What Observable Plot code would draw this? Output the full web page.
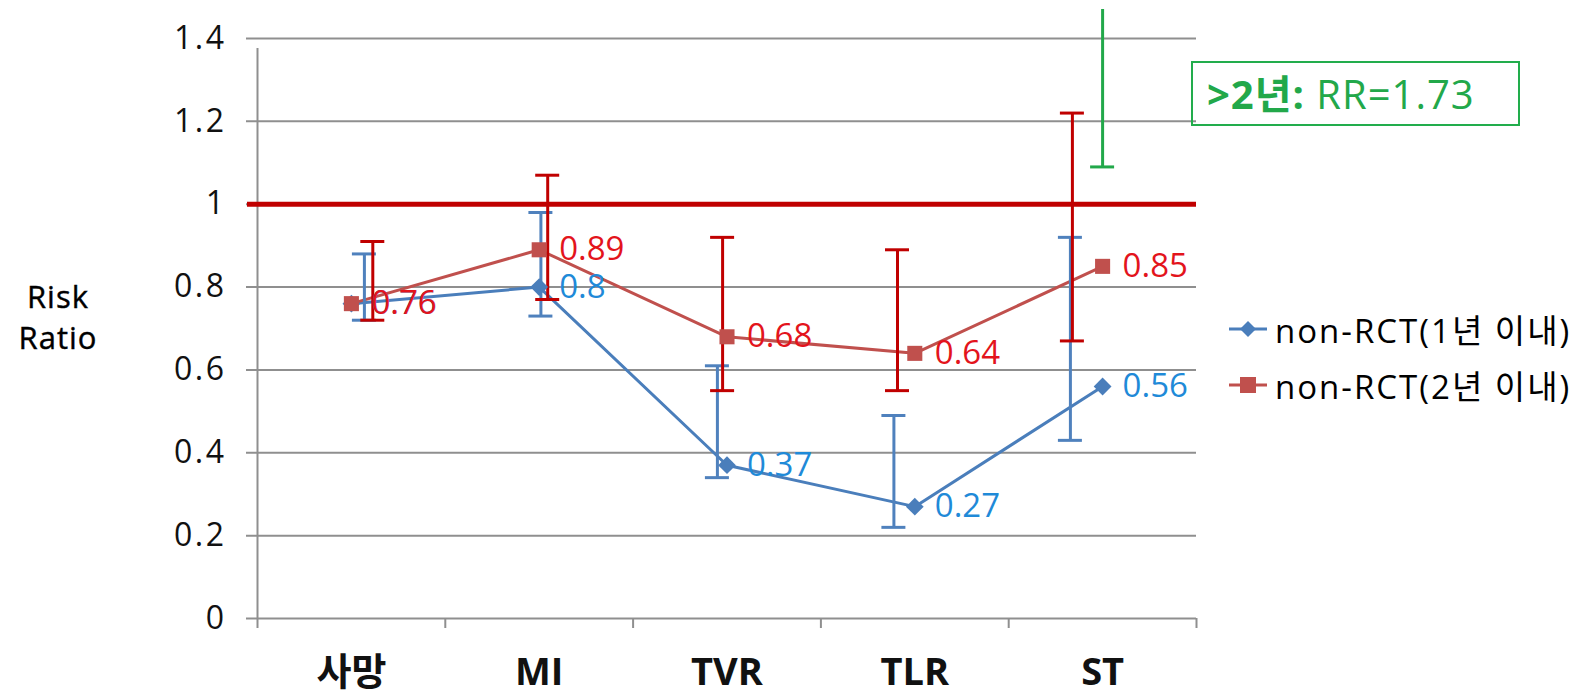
<!DOCTYPE html>
<html>
<head>
<meta charset="utf-8">
<script src="https://cdn.jsdelivr.net/npm/d3@7"></script>
<script src="https://cdn.jsdelivr.net/npm/@observablehq/plot@0.6"></script>
<style>
  html, body { margin: 0; padding: 0; background: #fff; }
  #wrap { position: relative; width: 1583px; height: 696px; font-family: "Open Sans", "Noto Sans CJK KR", sans-serif; }
  #wrap > svg { position: absolute; left: 0; top: 0; }
  #wrap g[aria-label="y-axis tick label"] text { letter-spacing: 2.5px; }
  .ylab { position: absolute; left: 0; width: 116px; text-align: center; font-size: 31px; line-height: 31px; color: #000; letter-spacing: 1px; -webkit-text-stroke: 0.4px #000; }
  .legend { position: absolute; left: 1229px; top: 301px; font-size: 33px; color: #000; }
  .legend .row { display: flex; align-items: center; height: 56px; letter-spacing: 2px; }
  .legend svg { margin-right: 8px; }
  .note { position: absolute; left: 1191px; top: 61px; width: 325px; height: 61px; border: 2px solid #22ad4c; color: #22a84a; font-size: 40px; line-height: 61px; box-sizing: content-box; white-space: nowrap; }
  .note span { margin-left: 14px; letter-spacing: 1px; }
</style>
</head>
<body>
<div id="wrap"></div>
<script>
// ---- data ----
const categories = ["사망", "MI", "TVR", "TLR", "ST"];
const seriesNames = ["non-RCT(1년 이내)", "non-RCT(2년 이내)"];
const rr1 = [0.76, 0.8, 0.37, 0.27, 0.56];
const lo1 = [0.72, 0.73, 0.34, 0.22, 0.43];
const hi1 = [0.88, 0.98, 0.61, 0.49, 0.92];
const rr2 = [0.76, 0.89, 0.68, 0.64, 0.85];
const lo2 = [0.72, 0.77, 0.55, 0.55, 0.67];
const hi2 = [0.91, 1.07, 0.92, 0.89, 1.22];
const beyondCategory = "ST";
const beyondLo = 1.09;
const beyondHi = 1.47;
const beyondRR = 1.73;
const beyondLabel = ">2년:";
const referenceRR = 1;
const yTicks = [0, 0.2, 0.4, 0.6, 0.8, 1, 1.2, 1.4];
const yTickLabels = ["0", "0.2", "0.4", "0.6", "0.8", "1", "1.2", "1.4"];
const yTitle = ["Risk", "Ratio"];

// ---- styling ----
const W = 1583, H = 696;
const mL = 257, mR = 387, mT = 38, mB = 78;
const bandPx = (W - mL - mR) / categories.length;
const capHalf = 12 / bandPx;
const blueLine = "#4a7ebb", redLine = "#c0504d";
const blueBar = "#4f81bd", redBar = "#c00000";
const blueText = "#1f8ad8", redText = "#e3141c";
const green = "#22a84a", grid = "#8f8f8f";

// error bars in the source were placed slightly off the category centres
const shift1 = i => i * (1 - 11.3 / bandPx) + 13 / bandPx;
const shift2 = i => i * (1 - 12.9 / bandPx) + 21.4 / bandPx;

const s1 = categories.map((c, i) => ({i, c, v: rr1[i], lo: lo1[i], hi: hi1[i], ex: shift1(i)}));
const s2 = categories.map((c, i) => ({i, c, v: rr2[i], lo: lo2[i], hi: hi2[i], ex: shift2(i)}));
const gi = categories.indexOf(beyondCategory);
const sg = [{i: gi, lo: beyondLo, hi: beyondHi}];
const boundaries = d3.range(categories.length + 1).map(k => k - 0.5);

const errMarks = (data, color, xk) => [
  Plot.ruleX(data, {x: xk, y1: "lo", y2: "hi", stroke: color, strokeWidth: 3}),
  Plot.ruleY(data, {y: "lo", x1: d => d[xk] - capHalf, x2: d => d[xk] + capHalf, stroke: color, strokeWidth: 3}),
  Plot.ruleY(data, {y: "hi", x1: d => d[xk] - capHalf, x2: d => d[xk] + capHalf, stroke: color, strokeWidth: 3})
];

const chart = Plot.plot({
  width: W, height: H,
  marginLeft: mL, marginRight: mR, marginTop: mT, marginBottom: mB,
  x: {type: "linear", domain: [-0.5, categories.length - 0.5], axis: null},
  y: {domain: [0, 1.4], axis: null},
  style: {fontFamily: "'Open Sans', 'Noto Sans CJK KR', sans-serif", background: "#fff", overflow: "visible"},
  marks: [
    Plot.ruleY(yTicks, {stroke: grid, strokeWidth: 2, insetLeft: -11}),
    Plot.ruleX([-0.5], {y1: 0, y2: 1.4, stroke: grid, strokeWidth: 2, insetBottom: -10}),
    Plot.axisX({ticks: boundaries, tickSize: 10, tickFormat: () => "", stroke: grid, strokeWidth: 2}),
    Plot.axisX({ticks: d3.range(categories.length), tickSize: 0, tickPadding: 40,
      tickFormat: d => categories[Math.round(d)], fontSize: 38, fontWeight: "bold", fill: "#111"}),
    Plot.axisY({ticks: yTicks, tickSize: 0, tickPadding: 31,
      tickFormat: d => yTickLabels[yTicks.indexOf(d)], fontSize: 32, fill: "#111"}),
    Plot.ruleY([referenceRR], {stroke: redBar, strokeWidth: 5, insetLeft: -10}),
    // green >2yr bar
    Plot.ruleX(sg, {x: "i", y1: "lo", y2: "hi", stroke: green, strokeWidth: 3}),
    Plot.ruleY(sg, {y: "lo", x1: d => d.i - capHalf, x2: d => d.i + capHalf, stroke: green, strokeWidth: 3}),
    // lines
    Plot.line(s1, {x: "i", y: "v", stroke: blueLine, strokeWidth: 3}),
    Plot.line(s2, {x: "i", y: "v", stroke: redLine, strokeWidth: 3}),
    // error bars
    ...errMarks(s1, blueBar, "ex"),
    ...errMarks(s2, redBar, "ex"),
    // markers
    Plot.dot(s1, {x: "i", y: "v", symbol: "diamond2", r: 8, fill: blueLine, stroke: "none"}),
    Plot.dot(s2, {x: "i", y: "v", symbol: "square", r: 8.5, fill: redLine, stroke: "none"}),
    // labels
    Plot.text(s1, {x: "i", y: "v", text: d => String(d.v), dx: 20, textAnchor: "start", fontSize: 33, fill: blueText}),
    Plot.text(s2, {x: "i", y: "v", text: d => String(d.v), dx: 20, textAnchor: "start", fontSize: 33, fill: redText})
  ]
});

const wrap = document.getElementById("wrap");
wrap.appendChild(chart);

// y title (two lines)
yTitle.forEach((t, k) => {
  const yl = document.createElement("div");
  yl.className = "ylab";
  yl.style.top = (281 + k * 41) + "px";
  yl.textContent = t;
  wrap.appendChild(yl);
});

// annotation box
const note = document.createElement("div");
note.className = "note";
note.innerHTML = `<span><b>${beyondLabel}</b> RR=${beyondRR}</span>`;
wrap.appendChild(note);

// legend
const lg = document.createElement("div");
lg.className = "legend";
const sym = (color, shape) => shape === "diamond"
  ? `<svg width="38" height="18"><line x1="0" y1="9" x2="38" y2="9" stroke="${color}" stroke-width="3"/><path d="M19 1 L27 9 L19 17 L11 9 Z" fill="${color}"/></svg>`
  : `<svg width="38" height="18"><line x1="0" y1="9" x2="38" y2="9" stroke="${color}" stroke-width="3"/><rect x="11" y="1" width="16" height="16" fill="${color}"/></svg>`;
lg.innerHTML = `<div class="row">${sym(blueLine, "diamond")}<span>${seriesNames[0]}</span></div>` +
               `<div class="row">${sym(redLine, "square")}<span>${seriesNames[1]}</span></div>`;
wrap.appendChild(lg);
</script>
</body>
</html>
